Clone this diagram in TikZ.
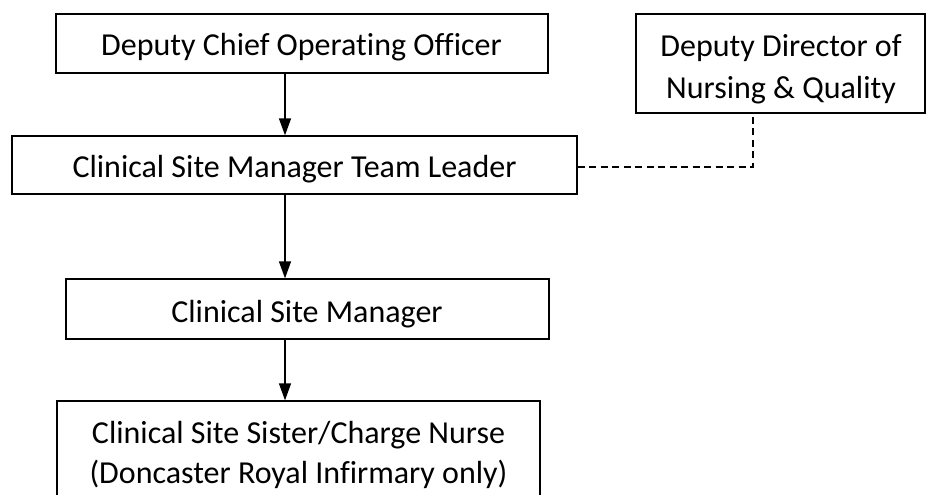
\documentclass[tikz,border=0pt]{standalone}
\usepackage{fontspec}
\setmainfont{Carlito}[Ligatures=NoCommon]
\usetikzlibrary{arrows.meta}
\tikzset{
  box/.style={draw=black, line width=1.3pt, fill=white, inner sep=0pt},
  lbl/.style={anchor=base, inner sep=0pt, font=\fontsize{32}{40}\selectfont},
  arr/.style={draw=black, line width=1.3pt, -{Triangle[length=17pt,width=12pt]}},
  dash line/.style={draw=black, line width=1.5pt, dash pattern=on 7pt off 4.5pt}
}
\begin{document}
\begin{tikzpicture}[x=1pt,y=-1pt]
\useasboundingbox (0,0) rectangle (926,495);
% boxes
\node[box, minimum width=492pt, minimum height=59pt] (b1) at (302,43.5) {};
\node[box, minimum width=289pt, minimum height=99pt] (b2) at (780.5,63.5) {};
\node[box, minimum width=565pt, minimum height=58pt] (b3) at (294.5,165) {};
\node[box, minimum width=483pt, minimum height=60pt] (b4) at (307.5,309) {};
\node[box, minimum width=483pt, minimum height=120pt] (b5) at (298.5,461) {};
% labels
\node[lbl] (t1) at (301.5,56) {Deputy Chief Operating Officer};
\node[lbl] (t2a) at (781,56.5) {Deputy Director of};
\node[lbl] (t2b) at (781,98) {Nursing \& Quality};
\node[lbl] (t3) at (294.5,177) {Clinical Site Manager Team Leader};
\node[lbl] (t4) at (307,322) {Clinical Site Manager};
\node[lbl] (t5a) at (298.5,443) {Clinical Site Sister/Charge Nurse};
\node[lbl] (t5b) at (298.5,483.5) {(Doncaster Royal Infirmary only)};
% connectors
\coordinate (ax) at (285,0);
\coordinate (dx) at (753,0);
\draw[arr] (b1.south -| ax) -- (b3.north -| ax);
\draw[arr] (b3.south -| ax) -- (b4.north -| ax);
\draw[arr] (b4.south -| ax) -- (b5.north -| ax);
\draw[dash line] ([yshift=-2pt]b3.east) -| (b2.south -| dx);
\end{tikzpicture}
\end{document}
